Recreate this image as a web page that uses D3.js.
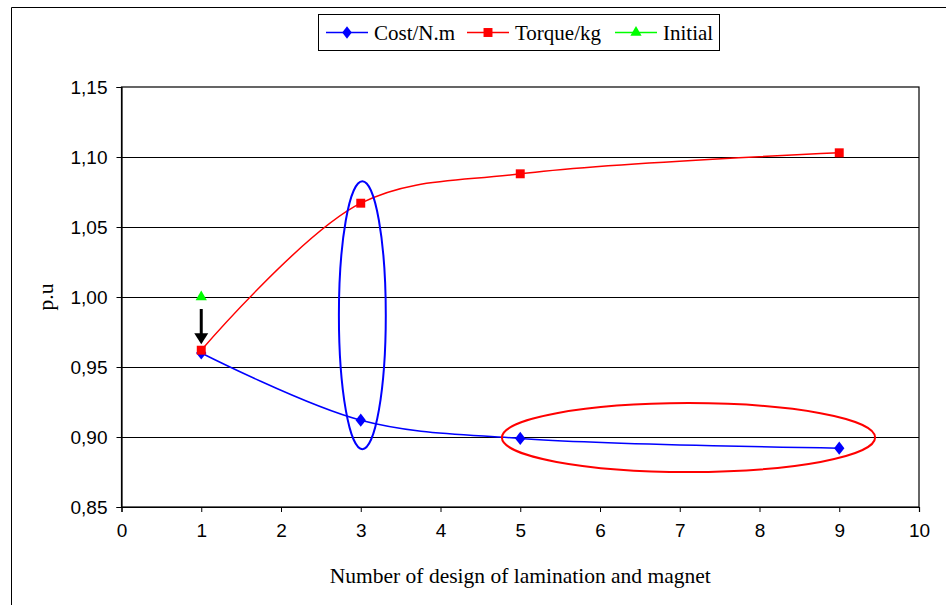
<!DOCTYPE html>
<html><head><meta charset="utf-8">
<script src="https://cdn.jsdelivr.net/npm/d3@7"></script>
<style>body{margin:0;background:#fff}svg{display:block}</style>
</head><body>
<svg id="c" width="946" height="605"></svg>
<script>
const designs = [1, 3, 5, 9];
const costPerNm = [0.960, 0.912, 0.899, 0.892];
const torquePerKg = [0.962, 1.067, 1.088, 1.103];
const initialX = [1];
const initialY = [1.00];
const xTicks = [0,1,2,3,4,5,6,7,8,9,10];
const yTicks = [0.85,0.90,0.95,1.00,1.05,1.10,1.15];
// annotation ellipses in data units: [cx, cy, rx, ry]
const blueEllipse = [3.02, 0.987, 0.294, 0.0957];
const redEllipse = [7.11, 0.8996, 2.34, 0.0246];

const svg = d3.select("#c");
const m = {l:121.5, r:919, t:87, b:507};
const x = d3.scaleLinear().domain([0,10]).range([m.l, m.r]);
const y = d3.scaleLinear().domain([0.85,1.15]).range([m.b, m.t]);
const serif = "Liberation Serif, Times New Roman, serif";
const sans = "Liberation Sans, Arial, sans-serif";

// outer frame
svg.append("path").attr("d","M11.5,605 V7.5 H946").attr("fill","none").attr("stroke","#000").attr("stroke-width",1);

// gridlines
svg.append("g").selectAll("line").data(yTicks.slice(1,-1)).join("line")
  .attr("x1",m.l).attr("x2",m.r).attr("y1",d=>Math.round(y(d))+0.5).attr("y2",d=>Math.round(y(d))+0.5)
  .attr("stroke","#000").attr("stroke-width",1);
// plot border
svg.append("rect").attr("x",m.l).attr("y",m.t).attr("width",m.r-m.l).attr("height",m.b-m.t)
  .attr("fill","none").attr("stroke","#000").attr("stroke-width",1.2);

const fmt = d3.format(".2f");
const yAxis = svg.append("g").attr("transform",`translate(${m.l},0)`)
  .call(d3.axisLeft(y).tickValues(yTicks).tickSize(5).tickPadding(9).tickFormat(d=>fmt(d).replace(".",",")));
const xAxis = svg.append("g").attr("transform",`translate(0,${m.b})`)
  .call(d3.axisBottom(x).tickValues(xTicks).tickSize(5).tickPadding(12).tickFormat(d3.format("d")));
[yAxis,xAxis].forEach(a=>{
  a.select(".domain").attr("stroke","#000").attr("stroke-width",1.2);
  a.selectAll(".tick line").attr("stroke","#000");
  a.selectAll("text").attr("font-family",sans).attr("font-size",19).attr("fill","#000");
});

// axis titles
svg.append("text").attr("x",(m.l+m.r)/2).attr("y",583).attr("text-anchor","middle")
  .attr("font-family",serif).attr("font-size",21.5).text("Number of design of lamination and magnet");
svg.append("text").attr("transform","translate(53,297) rotate(-90)").attr("text-anchor","middle")
  .attr("font-family",serif).attr("font-size",21.5).text("p.u");

const line = d3.line().x(d=>x(d[0])).y(d=>y(d[1])).curve(d3.curveCatmullRom.alpha(0.5));
const costPts = designs.map((d,i)=>[d,costPerNm[i]]);
const torquePts = designs.map((d,i)=>[d,torquePerKg[i]]);
svg.append("path").attr("d",line(costPts)).attr("fill","none").attr("stroke","#0000ff").attr("stroke-width",1.5);
svg.append("path").attr("d",line(torquePts)).attr("fill","none").attr("stroke","#ff0000").attr("stroke-width",1.5);

const square = d3.symbol().type(d3.symbolSquare).size(80);
const tri = d3.symbol().type(d3.symbolTriangle).size(55);

// ellipses
[[blueEllipse,"#0000ff"],[redEllipse,"#ff0000"]].forEach(([e,c])=>{
  svg.append("ellipse").attr("cx",x(e[0])).attr("cy",y(e[1]))
    .attr("rx",x(e[0]+e[2])-x(e[0])).attr("ry",y(e[1]-e[3])-y(e[1]))
    .attr("fill","none").attr("stroke",c).attr("stroke-width",2);
});

// arrow
const ax = x(initialX[0]);
svg.append("line").attr("x1",ax).attr("x2",ax).attr("y1",y(initialY[0])+12).attr("y2",y(torquePerKg[0])-16)
  .attr("stroke","#000").attr("stroke-width",3);
svg.append("path").attr("d",`M${ax-7},${y(torquePerKg[0])-17} L${ax+7},${y(torquePerKg[0])-17} L${ax},${y(torquePerKg[0])-6} Z`).attr("fill","#000");

svg.append("g").selectAll("path").data(costPts).join("path").attr("d",d3.symbol().type(d3.symbolDiamond).size(70))
  .attr("transform",d=>`translate(${x(d[0])},${y(d[1])}) scale(1.15,0.85)`).attr("fill","#0000ff");
svg.append("g").selectAll("path").data(torquePts).join("path").attr("d",square)
  .attr("transform",d=>`translate(${x(d[0])},${y(d[1])})`).attr("fill","#ff0000");
svg.append("g").selectAll("path").data(initialX.map((d,i)=>[d,initialY[i]])).join("path").attr("d",tri)
  .attr("transform",d=>`translate(${x(d[0])},${y(d[1])})`).attr("fill","#00ff00");

// legend
const lg = svg.append("g");
lg.append("rect").attr("x",318.5).attr("y",14.5).attr("width",401).attr("height",36).attr("fill","#fff").attr("stroke","#000").attr("stroke-width",1);
const items = [
  {name:"Cost/N.m", color:"#0000ff", x0:326, sym:"d"},
  {name:"Torque/kg", color:"#ff0000", x0:467, sym:"s"},
  {name:"Initial", color:"#00ff00", x0:615, sym:"t"}
];
items.forEach(it=>{
  lg.append("line").attr("x1",it.x0).attr("x2",it.x0+42).attr("y1",32.5).attr("y2",32.5).attr("stroke",it.color).attr("stroke-width",1.5);
  const p = lg.append("path").attr("fill",it.color);
  if(it.sym==="d") p.attr("d",d3.symbol().type(d3.symbolDiamond).size(60)()).attr("transform",`translate(${it.x0+21},32.5) scale(1.15,0.85)`);
  if(it.sym==="s") p.attr("d",square()).attr("transform",`translate(${it.x0+21},32.5)`);
  if(it.sym==="t") p.attr("d",tri()).attr("transform",`translate(${it.x0+21},32.5)`);
  lg.append("text").attr("x",it.x0+48).attr("y",39.5).attr("font-family",serif)
    .attr("font-size",21).text(it.name);
});
</script>
</body></html>
